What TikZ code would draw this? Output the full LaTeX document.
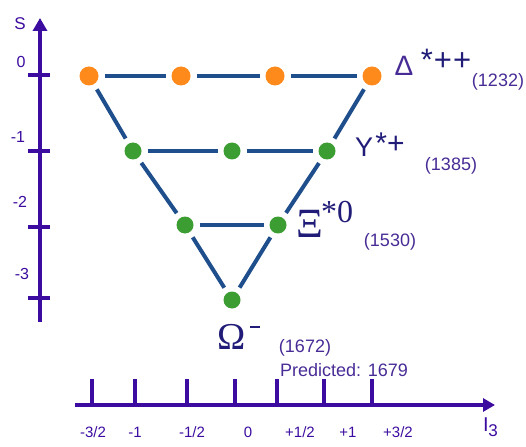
\documentclass[tikz,border=0pt]{standalone}
\usepackage{fontspec}
\setmainfont{Liberation Sans}
\newfontfamily\serifgreek{Liberation Serif}
\usetikzlibrary{arrows.meta,positioning}

\definecolor{axisviolet}{RGB}{60,12,160}
\definecolor{linkblue}{RGB}{30,78,140}
\definecolor{decorange}{RGB}{255,138,28}
\definecolor{decgreen}{RGB}{60,158,50}
\definecolor{namenavy}{RGB}{32,28,120}
\definecolor{massviolet}{RGB}{72,44,150}

\begin{document}
\begin{tikzpicture}[x=1pt, y=-1pt,
  baryon/.style={circle, inner sep=0pt, outer sep=0pt, minimum size=18pt},
  delta/.style={baryon, fill=decorange, minimum size=19pt},
  hyperon/.style={baryon, fill=decgreen, minimum size=17pt},
  link/.style={line width=4pt, draw=linkblue, shorten <=6pt, shorten >=6pt},
  axisline/.style={line width=4pt, draw=axisviolet, -{Triangle[length=13pt, width=14pt]}},
  tickmark/.style={line width=3.5pt, draw=axisviolet},
  ticklbl/.style={inner sep=0pt, text=axisviolet, font=\fontsize{15}{15}\selectfont},
  pname/.style={inner sep=0pt, text=namenavy},
  mass/.style={inner sep=0pt, text=massviolet, font=\fontsize{18}{18}\selectfont},
]
\useasboundingbox (0,0) rectangle (526,446);

% Strangeness axis
\coordinate (sbot) at (40,322);
\coordinate (stop) at (40,18);
\draw[axisline] (sbot) -- (stop);
\draw[tickmark] (28,75) -- (50,75);
\draw[tickmark] (28,151) -- (50,151);
\draw[tickmark] (28,227) -- (50,227);
\draw[tickmark] (28,298) -- (50,298);
\node[ticklbl, font=\fontsize{17}{17}\selectfont] (slbl) at (20,24) {S};
\node[ticklbl, font=\fontsize{16}{16}\selectfont] (s0) at (21,62) {0};
\node[ticklbl, font=\fontsize{16}{16}\selectfont] (s1) at (18,137) {-1};
\node[ticklbl, font=\fontsize{16}{16}\selectfont] (s2) at (20,202) {-2};
\node[ticklbl, font=\fontsize{16}{16}\selectfont] (s3) at (22,274) {-3};

% Isospin axis
\coordinate (ileft) at (75,405);
\coordinate (iright) at (495,405);
\draw[axisline, -{Triangle[length=12pt, width=13pt]}] (ileft) -- (iright);
\draw[tickmark] (92,379) -- (92,405);
\draw[tickmark] (135,379) -- (135,405);
\draw[tickmark] (187,379) -- (187,405);
\draw[tickmark] (235,379) -- (235,405);
\draw[tickmark] (277,379) -- (277,405);
\draw[tickmark] (324,379) -- (324,405);
\draw[tickmark] (372,379) -- (372,405);
\node[ticklbl] (im32) at (93,432) {-3/2};
\node[ticklbl] (im1) at (135,432) {-1};
\node[ticklbl] (im12) at (192,432) {-1/2};
\node[ticklbl] (i0) at (248,432) {0};
\node[ticklbl] (ip12) at (300,432) {+1/2};
\node[ticklbl] (ip1) at (348,432) {+1};
\node[ticklbl] (ip32) at (398,432) {+3/2};
\node[ticklbl, font=\fontsize{20}{20}\selectfont] (ilbl) at (486,425) {I};
\node[ticklbl, font=\fontsize{17}{17}\selectfont] (isub) at (493,431) {3};

% Decuplet members
\node[delta] (d1) at (89,76) {};
\node[delta] (d2) at (181,76) {};
\node[delta] (d3) at (275,76) {};
\node[delta] (d4) at (372,76) {};
\node[hyperon] (y1) at (133,151) {};
\node[hyperon] (y2) at (232,151) {};
\node[hyperon] (y3) at (327,151) {};
\node[hyperon] (x1) at (185,225) {};
\node[hyperon] (x2) at (278,225) {};
\node[hyperon] (om) at (232,300) {};

% Links along rows
\draw[link] (d1) -- (d2);
\draw[link] (d2) -- (d3);
\draw[link] (d3) -- (d4);
\draw[link] (y1) -- (y2);
\draw[link] (y2) -- (y3);
\draw[link] (x1) -- (x2);

% Links along the edges
\draw[link] (d1) -- (y1);
\draw[link] (y1) -- (x1);
\draw[link] (x1) -- (om);
\draw[link] (d4) -- (y3);
\draw[link] (y3) -- (x2);
\draw[link] (x2) -- (om);

% Particle names and masses
\node[pname, text=massviolet, font=\fontsize{28}{28}\selectfont] (dname) at (404,66) {Δ};
\node[pname, font=\fontsize{31}{31}\selectfont] (dsup) at (446,60) {*\kern1pt+\kern1pt+};
\node[mass] (dmass) at (498,82) {(1232)};

\node[pname, font=\fontsize{27}{27}\selectfont] (yname) at (364,147) {Y};
\node[pname, font=\fontsize{30}{30}\selectfont] (ysup) at (390,143) {*+};
\node[mass] (ymass) at (451,166) {(1385)};

\node[pname, font=\serifgreek\fontsize{32}{32}\selectfont] (xname) at (310,224) {\scalebox{1.3}{Ξ}};
\node[pname, font=\serifgreek\fontsize{32}{32}\selectfont] (xsup) at (337,212) {*0};
\node[mass] (xmass) at (390,242) {(1530)};

\node[pname, font=\serifgreek\fontsize{38}{38}\selectfont] (oname) at (232,337) {Ω};
\node[pname] (osup) at (255,327) {\rule{10pt}{2.5pt}};
\node[mass] (omass) at (305,348) {(1672)};
\node[mass] (opred) at (344,370) {Predicted: 1679};

\end{tikzpicture}
\end{document}
